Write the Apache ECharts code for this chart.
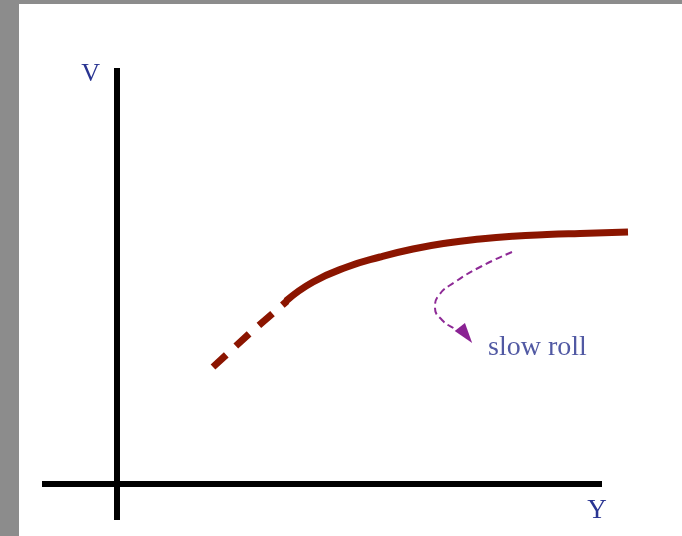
<!DOCTYPE html>
<html>
<head>
<meta charset="utf-8">
<script src="https://cdn.jsdelivr.net/npm/echarts@6/dist/echarts.min.js"></script>
<style>
  body { margin: 0; background: #8c8c8c; }
  #main { position: absolute; left: 19px; top: 4px; width: 663px; height: 532px; background: #fff; }
</style>
</head>
<body>
<div id="main"></div>
<script>
// potential V(Y): dashed steep part, then solid plateau
var steepX = [96, 133, 170];
var steepY = [117, 151, 183];
var plateauX = [169, 196, 230, 263, 296, 330, 363, 396, 430, 463, 511];
var plateauY = [183, 202, 217, 227, 235, 241, 245, 247.8, 249.5, 250.6, 252];
// slow roll arrow path
var rollX = [395, 365, 338, 322, 318, 325, 338, 349];
var rollY = [232, 218, 202, 189, 176, 164, 155, 149];
var labelPos = [371, 136];

function pairs(xs, ys) {
  return xs.map(function (x, i) { return [x, ys[i]]; });
}

var rollData = pairs(rollX, rollY).map(function (p, i) {
  if (i == rollX.length - 1) {
    return { value: p, symbol: 'triangle', symbolSize: [13, 20], symbolRotate: 218,
      itemStyle: { color: '#8a2293' } };
  }
  return { value: p, symbol: 'none' };
});

var myChart = echarts.init(document.getElementById('main'));

var serif = 'Liberation Serif, Times New Roman, serif';
var hidden = {
  axisLine: { show: false }, axisTick: { show: false },
  axisLabel: { show: false }, splitLine: { show: false }
};

myChart.setOption({
  animation: false,
  grid: [
    { left: 23, right: 80, top: 64, bottom: 16 },
    // same scale, wider, so the plateau can run past the Y axis end
    { left: 23, right: 25, top: 64, bottom: 16 }
  ],
  xAxis: [{
    type: 'value', min: -75, max: 485, gridIndex: 0,
    axisLine: { onZero: true, lineStyle: { color: '#000', width: 6, cap: 'butt' } },
    axisTick: { show: false }, axisLabel: { show: false }, splitLine: { show: false },
    name: 'Y', nameLocation: 'end', nameGap: -5,
    nameTextStyle: { color: '#2a3592', fontFamily: serif, fontSize: 27,
      align: 'center', verticalAlign: 'top', padding: [13, 0, 0, 0] }
  }, Object.assign({ type: 'value', min: -75, max: 540, gridIndex: 1 }, hidden)],
  yAxis: [{
    type: 'value', min: -36, max: 416, gridIndex: 0,
    axisLine: { onZero: true, lineStyle: { color: '#000', width: 6, cap: 'butt' } },
    axisTick: { show: false }, axisLabel: { show: false }, splitLine: { show: false },
    name: 'V', nameLocation: 'end', nameGap: -6,
    nameTextStyle: { color: '#2a3592', fontFamily: serif, fontSize: 26,
      align: 'right', verticalAlign: 'middle', padding: [0, 17, 0, 0] }
  }, Object.assign({ type: 'value', min: -36, max: 416, gridIndex: 1 }, hidden)],
  series: [{
    type: 'line', xAxisIndex: 1, yAxisIndex: 1,
    data: pairs(steepX, steepY),
    showSymbol: false, clip: false,
    lineStyle: { color: '#8b1500', width: 7, type: [18, 13], cap: 'butt' }
  }, {
    type: 'line', xAxisIndex: 1, yAxisIndex: 1,
    data: pairs(plateauX, plateauY),
    smooth: 0.5, showSymbol: false, clip: false,
    lineStyle: { color: '#8b1500', width: 7 }
  }, {
    type: 'line', xAxisIndex: 1, yAxisIndex: 1,
    data: rollData,
    smooth: 0.5, clip: false,
    lineStyle: { color: '#8e2a96', width: 2, type: [7, 4] }
  }, {
    type: 'scatter', xAxisIndex: 1, yAxisIndex: 1,
    data: [labelPos],
    symbolSize: 0,
    label: { show: true, position: 'right', distance: 0, formatter: 'slow roll',
      color: '#26308c', fontFamily: serif, fontSize: 28 }
  }]
});
</script>
</body>
</html>
